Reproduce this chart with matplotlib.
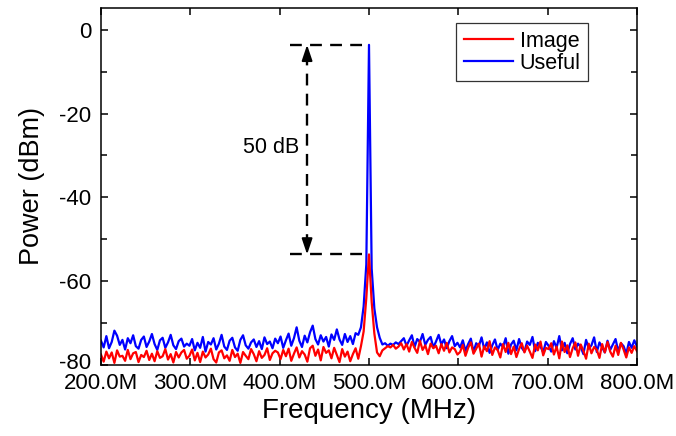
import numpy as np
import matplotlib
matplotlib.use("Agg")
import matplotlib.pyplot as plt
from matplotlib.ticker import MultipleLocator, FuncFormatter
from matplotlib.transforms import ScaledTranslation

plt.rcParams['font.family'] = ['Liberation Sans', 'DejaVu Sans']
plt.rcParams['axes.unicode_minus'] = False

# spectrum sampled every 3 MHz from 200 to 800 MHz
freq_mhz = np.arange(200, 801, 3)

# useful sideband (dBm), split by frequency band
useful_200_296 = [-74.2, -75.8, -73.1, -76.0, -74.5, -71.8, -73.0, -75.2, -74.0, -76.3, -73.6,
                  -74.8, -72.9, -75.5, -76.1, -74.0, -73.2, -75.7, -74.4, -72.6, -75.0, -76.4,
                  -74.1, -73.5, -75.9, -74.6, -72.8, -75.3, -76.2, -74.3, -73.7, -75.6, -74.9]
useful_299_395 = [-75.4, -73.8, -76.5, -74.7, -75.9, -73.3, -76.8, -74.5, -75.1, -73.6, -76.3,
                  -74.9, -72.8, -75.6, -76.4, -74.2, -73.5, -75.8, -76.6, -74.0, -72.9, -75.3,
                  -76.1, -74.6, -73.9, -75.7, -74.3, -76.2, -73.4, -75.0, -74.4, -76.0, -73.7]
useful_398_494 = [-74.8, -73.2, -75.9, -74.1, -72.5, -75.4, -73.6, -71.0, -74.2, -75.7, -73.0,
                  -74.6, -72.2, -70.6, -73.8, -75.1, -72.9, -74.4, -73.3, -75.6, -72.7, -74.0,
                  -71.5, -73.9, -75.2, -72.6, -74.5, -73.1, -75.0, -72.4, -72.8, -71.0, -66.0]
useful_497_503 = [-56.0, -3.6, -57.0]
useful_506_599 = [-66.5, -71.0, -73.5, -75.1, -74.8, -75.4, -74.9, -75.2, -74.6, -75.0, -74.3,
                  -73.6, -75.4, -74.1, -72.9, -75.7, -73.8, -74.5, -72.6, -75.2, -74.0, -73.3,
                  -75.8, -74.4, -72.8, -75.1, -73.9, -76.0, -74.3, -73.1, -75.5, -74.7]
useful_602_698 = [-75.8, -74.1, -76.6, -75.0, -73.7, -76.9, -74.8, -75.5, -73.4, -76.2, -74.6,
                  -77.1, -75.3, -73.9, -76.4, -74.9, -75.7, -73.6, -77.3, -75.1, -74.2, -76.5,
                  -73.8, -75.9, -76.8, -74.4, -75.2, -73.3, -76.7, -74.7, -75.6, -77.0, -74.5]
useful_701_800 = [-75.4, -76.8, -74.3, -75.9, -73.1, -76.5, -74.7, -77.2, -75.0, -73.6, -76.3,
                  -74.9, -75.7, -77.4, -74.0, -76.1, -75.3, -73.4, -76.9, -74.6, -75.8, -77.0,
                  -74.2, -76.4, -75.1, -73.8, -76.7, -74.8, -75.5, -77.3, -74.5, -75.9, -74.1, -75.6]

# image sideband (dBm)
image_200_296 = [-77.5, -79.2, -76.8, -78.4, -77.0, -79.5, -76.5, -78.0, -77.8, -79.0, -76.4,
                 -78.6, -77.2, -76.9, -79.3, -77.6, -78.1, -76.6, -78.8, -77.3, -79.1, -76.7,
                 -78.3, -77.9, -76.2, -78.7, -77.4, -79.4, -76.9, -78.2, -77.0, -76.4, -78.5]
image_299_395 = [-77.8, -76.3, -78.9, -77.1, -79.3, -76.8, -78.2, -77.5, -76.1, -78.6, -79.4,
                 -77.0, -76.5, -78.4, -77.7, -79.0, -76.4, -78.1, -77.3, -79.5, -76.9, -77.8,
                 -78.6, -76.2, -77.4, -79.1, -76.7, -78.3, -77.6, -76.0, -78.8, -77.2, -76.6]
image_398_494 = [-77.0, -78.6, -76.4, -77.9, -76.1, -79.0, -77.3, -75.8, -78.2, -76.7, -77.5,
                 -79.2, -76.0, -75.4, -77.8, -76.3, -78.9, -75.7, -77.1, -76.5, -78.4, -75.9,
                 -77.6, -79.3, -76.2, -78.0, -76.8, -79.1, -77.4, -76.0, -78.5, -75.5, -72.0]
image_497_503 = [-64.0, -53.6, -65.0]
image_506_599 = [-72.5, -77.0, -77.9, -76.5, -76.0, -75.5, -75.8, -75.2, -76.1, -75.6, -74.8,
                 -76.3, -75.0, -76.8, -74.5, -75.9, -77.1, -74.2, -76.4, -75.3, -77.4, -74.9,
                 -76.0, -75.4, -77.2, -75.0, -76.6, -74.7, -77.0, -75.8, -76.2, -77.5]
image_602_698 = [-76.9, -75.2, -77.8, -75.9, -74.6, -77.3, -76.1, -74.9, -78.0, -75.5, -76.7,
                 -74.3, -77.6, -75.8, -76.4, -78.2, -75.0, -76.9, -74.7, -77.4, -75.6, -78.1,
                 -76.2, -74.8, -77.0, -75.4, -76.8, -78.3, -75.1, -76.5, -74.4, -77.7, -75.9]
image_701_800 = [-76.2, -74.8, -77.5, -75.6, -78.4, -74.4, -76.9, -75.3, -78.1, -76.0, -74.6,
                 -77.8, -75.1, -76.6, -78.5, -74.9, -77.2, -75.7, -76.4, -78.3, -75.0, -77.0,
                 -74.5, -76.8, -78.0, -75.4, -77.6, -74.7, -76.3, -78.2, -75.8, -77.1, -75.5, -76.7]

useful = np.concatenate([useful_200_296, useful_299_395, useful_398_494, useful_497_503,
                         useful_506_599, useful_602_698, useful_701_800])
image = np.concatenate([image_200_296, image_299_395, image_398_494, image_497_503,
                        image_506_599, image_602_698, image_701_800])

fig = plt.figure(figsize=(6.76, 4.36), dpi=100)
ax = fig.add_axes([0.1494, 0.1628, 0.7929, 0.8189])

l_use, = ax.plot(freq_mhz, useful, color='#0000ff', lw=1.6)
l_img, = ax.plot(freq_mhz, image, color='#ff0000', lw=1.6)

# suppression marker between the two peaks
top = useful.max()
bot = image.max()
x_arrow = 430.7
ax.plot([411.6, 500], [top, top], color='black', lw=1.7, dashes=(5, 3.5))
ax.plot([411.6, 500], [bot, bot], color='black', lw=1.7, dashes=(5, 3.5))
ax.plot([x_arrow, x_arrow], [bot + 2, top - 2], color='black', lw=1.7, dashes=(5, 3.5))
for tip, start in [(top, top - 3.5), (bot, bot + 3.5)]:
    ax.annotate('', xy=(x_arrow, tip), xytext=(x_arrow, start),
                arrowprops=dict(arrowstyle='-|>,head_length=0.95,head_width=0.32',
                                color='black', lw=1.4, mutation_scale=10,
                                shrinkA=0, shrinkB=0))
ax.text(391, -28, '%d dB' % round(top - bot), fontsize=15.5, ha='center', va='center')

ax.set_xlim(200, 800)
ax.set_ylim(-80, 5.2)
ax.xaxis.set_major_locator(MultipleLocator(100))
ax.xaxis.set_major_formatter(FuncFormatter(lambda v, p: '%.1fM' % v))
ax.yaxis.set_major_locator(MultipleLocator(20))
ax.yaxis.set_minor_locator(MultipleLocator(10))
ax.tick_params(which='both', direction='in', top=True, right=True, width=1.1)
ax.tick_params(which='major', length=5, labelsize=16)
ax.tick_params(which='minor', length=4)
ax.tick_params(axis='x', pad=5.5)
ax.tick_params(axis='y', pad=7)
for s in ax.spines.values():
    s.set_linewidth(1.1)

ax.set_xlabel('Frequency (MHz)', fontsize=20, labelpad=3)
ax.set_ylabel('Power (dBm)', fontsize=19.5, labelpad=10)

leg = ax.legend([l_img, l_use], ['Image', 'Useful'], loc='upper right',
                bbox_to_anchor=(0.909, 0.958), borderaxespad=0, fontsize=15.5,
                handlelength=2.3, handletextpad=0.3, labelspacing=0.05,
                borderpad=0.35, fancybox=False, framealpha=1)
leg.get_frame().set_edgecolor('#333333')
leg.get_frame().set_linewidth(0.9)

# lift the bottom y label a little so it sits clear of the first x label
fig.canvas.draw()
for tick in ax.yaxis.get_major_ticks():
    if abs(tick.get_loc() + 80) < 1e-6:
        lab = tick.label1
        lab.set_transform(lab.get_transform() + ScaledTranslation(0, 3 / 72, fig.dpi_scale_trans))

fig.savefig('out.png', dpi=100)
